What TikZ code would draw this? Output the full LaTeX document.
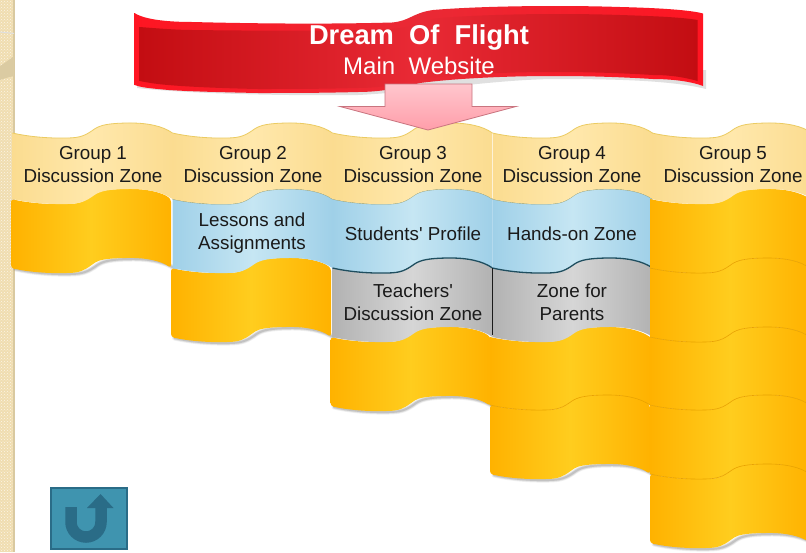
\documentclass[tikz,border=0pt]{standalone}
\usepackage{fontspec}
\setmainfont{Liberation Sans}[Ligatures=TeXOff]
\usetikzlibrary{patterns}
\definecolor{hdr}{HTML}{FBDC90}
\definecolor{hdrm}{HTML}{FFE8AC}
\definecolor{hdrT}{HTML}{EBCB62}
\definecolor{yelE}{HTML}{FFB200}
\definecolor{yelM}{HTML}{FFCD1E}
\definecolor{bluE}{HTML}{9FD0E8}
\definecolor{bluM}{HTML}{C6E6F3}
\definecolor{gryE}{HTML}{B2B2B2}
\definecolor{gryM}{HTML}{D6D6D6}
\definecolor{redE}{HTML}{C30D12}
\definecolor{redM}{HTML}{E92A35}
\definecolor{redB}{HTML}{FF1522}
\definecolor{ink}{HTML}{1A1A1A}
\definecolor{strip}{HTML}{F0DDB0}
\definecolor{stripE}{HTML}{D9C9A0}
\definecolor{btn}{HTML}{3F94AF}
\definecolor{btnD}{HTML}{2A6C87}
\definecolor{hdrE}{HTML}{8FA07F}
\definecolor{yelL}{HTML}{E8A200}
\definecolor{bluL}{HTML}{1F4E5F}
\definecolor{pinkT}{HTML}{FFC6CD}
\definecolor{pinkB}{HTML}{FF9EAA}
\definecolor{pinkD}{HTML}{C9747F}
\tikzset{
  x=1pt,y=-1pt,
  hdrfill/.style={left color=hdr,right color=hdr,middle color=hdrm},
  yelfill/.style={left color=yelE,right color=yelE,middle color=yelM},
  blufill/.style={left color=bluE,right color=bluE,middle color=bluM},
  gryfill/.style={left color=gryE,right color=gryE,middle color=gryM},
  label/.style={font=\fontsize{18.8}{23}\selectfont,text=ink,align=center,inner sep=0pt},
  hdrline/.style={draw=hdrE,line width=0.8pt},
}
\newcommand{\wavefw}[2]{.. controls (#1+15,#2+3.5) and (#1+35,#2+5.5) .. (#1+55,#2+5) .. controls (#1+68,#2+4.8) and (#1+73,#2+2.5) .. (#1+82,#2-4) .. controls (#1+88,#2-8) and (#1+96,#2-9.7) .. (#1+115,#2-10) .. controls (#1+135,#2-10.3) and (#1+150,#2-7) .. (#1+160,#2)}
\newcommand{\wavebw}[2]{.. controls (#1+150,#2-7) and (#1+135,#2-10.3) .. (#1+115,#2-10) .. controls (#1+96,#2-9.7) and (#1+88,#2-8) .. (#1+82,#2-4) .. controls (#1+73,#2+2.5) and (#1+68,#2+4.8) .. (#1+55,#2+5) .. controls (#1+35,#2+5.5) and (#1+15,#2+3.5) .. (#1,#2)}
\newcommand{\band}[4]{\path[#4] (#1,#2) \wavefw{#1}{#2} -- (#1+160,#3) \wavebw{#1}{#3} -- cycle;}
\newcommand{\softshadow}[2]{%
  \foreach \d/\o in {5/0.06,3.5/0.08,2/0.12}{%
    \draw[black,opacity=\o,line width=\d pt,line cap=round] (#1+3,#2+1) \wavefw{#1+3}{#2+1};}}
\newcommand{\edgeline}[3]{\draw[#3] (#1,#2) \wavefw{#1}{#2};}
\begin{document}
\begin{tikzpicture}
\useasboundingbox (0,0) rectangle (806,552);
\clip (0,0) rectangle (806,552);
\fill[white] (0,0) rectangle (806,552);
% left strip
\fill[strip] (0,0) rectangle (12.5,552);
\fill[pattern=crosshatch dots,pattern color=white!70!strip] (0,0) rectangle (12.5,552);
\fill[stripE] (12.5,0) rectangle (14.5,552);
\fill[stripE!90!strip] (0,66) .. controls (5,63) and (10,59) .. (14,56) -- (14,76) .. controls (10,77) and (5,78) .. (0,80) -- cycle;
\draw[white!75!gray,line width=1pt] (0,32) -- (14,33.5);

% column 1
\softshadow{12.5}{268}
\band{11}{199}{268}{yelfill,rounded corners=3pt}
\band{12.5}{133}{199}{hdrfill}
\edgeline{12.5}{133}{draw=hdrT,line width=0.8pt}
% column 2
\softshadow{171.5}{337}
\band{171}{268}{337}{yelfill,rounded corners=3pt}
\band{172.5}{199}{268}{blufill}
\edgeline{172.5}{199}{hdrline}
\band{172.5}{133}{199}{hdrfill}
\edgeline{172.5}{133}{draw=hdrT,line width=0.8pt}
% column 3
\softshadow{331}{406}
\band{330.5}{337}{406}{yelfill,rounded corners=3pt}
\band{332.5}{268}{337}{gryfill}
\band{332.5}{199}{268}{blufill}
\edgeline{332.5}{268}{draw=bluL,line width=1.3pt}
\edgeline{332.5}{199}{hdrline}
\band{332.5}{133}{199}{hdrfill}
\edgeline{332.5}{133}{draw=hdrT,line width=0.8pt}
% column 4
\softshadow{491}{474}
\band{490}{405}{474}{yelfill,rounded corners=3pt}
\band{490}{337}{405}{yelfill}
\edgeline{490}{405}{draw=yelL,line width=0.6pt}
\band{492.5}{268}{337}{gryfill}
\band{492.5}{199}{268}{blufill}
\edgeline{492.5}{268}{draw=bluL,line width=1.3pt}
\edgeline{492.5}{199}{hdrline}
\band{492.5}{133}{199}{hdrfill}
\edgeline{492.5}{133}{draw=hdrT,line width=0.8pt}
\draw[ink,line width=0.6pt] (492.7,268) -- (492.7,335);
% column 5
\softshadow{651}{543}
\band{650}{474}{543}{yelfill,rounded corners=3pt}
\band{650}{405}{474}{yelfill}
\band{650}{337}{405}{yelfill}
\band{650}{268}{337}{yelfill}
\band{650}{199}{268}{yelfill}
\edgeline{650}{268}{draw=yelL,line width=0.6pt}
\edgeline{650}{337}{draw=yelL,line width=0.6pt}
\edgeline{650}{405}{draw=yelL,line width=0.6pt}
\edgeline{650}{474}{draw=yelL,line width=0.6pt}
\band{652}{133}{199}{hdrfill}
\edgeline{652}{133}{draw=hdrT,line width=0.8pt}

% banner
\fill[black,opacity=0.12] (137,88) .. controls (180,93) and (270,96) .. (358,95) .. controls (420,92) and (490,80) .. (553,79) .. controls (610,79) and (670,80) .. (706,89) -- (706,70) -- (137,70) -- cycle;
\path[left color=redB,right color=redB,middle color=redM]
  (134.5,13) .. controls (145,20) and (170,22) .. (192,22)
  .. controls (270,24) and (340,24) .. (392,22.5)
  .. controls (410,21) and (412,13) .. (433,10)
  .. controls (480,6) and (560,5) .. (620,7)
  .. controls (660,8) and (690,10) .. (703,13.5)
  -- (703,86)
  .. controls (690,81) and (670,79) .. (653,79)
  .. controls (620,77) and (590,76) .. (553,76)
  .. controls (500,76) and (450,79) .. (420,83)
  .. controls (400,88) and (380,92) .. (358,92)
  .. controls (320,93) and (290,93) .. (258,93)
  .. controls (210,92) and (175,91) .. (158,89)
  .. controls (147,88) and (140,87) .. (134.5,85) -- cycle;
\path[left color=redE,right color=redE,middle color=redM]
  (139.5,27) .. controls (165,29) and (180,30) .. (192,30)
  .. controls (270,31) and (340,31) .. (392,29)
  .. controls (415,27) and (420,20) .. (440,18)
  .. controls (490,14) and (560,13) .. (620,15)
  .. controls (650,16) and (680,17) .. (697.5,20)
  -- (697.5,81)
  .. controls (680,76) and (665,75) .. (653,75)
  .. controls (620,73) and (590,72) .. (553,72)
  .. controls (500,72) and (450,75) .. (420,79)
  .. controls (400,84) and (380,88) .. (358,88)
  .. controls (320,89) and (290,89) .. (258,89)
  .. controls (210,88) and (175,86) .. (158,84)
  .. controls (150,83) and (145,82) .. (139.5,81) -- cycle;
\node[font=\bfseries\fontsize{27.3}{32}\selectfont,text=white,inner sep=0pt] (title) at (419,37) {Dream\ \ Of\ \ Flight};
\node[font=\fontsize{24}{27}\selectfont,text=white,inner sep=0pt] (subtitle) at (419,66) {Main\ \ Website};

% block arrow
\path[top color=pinkT,bottom color=pinkB,draw=pinkD,line width=0.8pt]
  (385,84) -- (472,84) -- (472,106.5) -- (516,106.5) -- (428,130) -- (340,106.5) -- (385,106.5) -- cycle;

% labels
\foreach \nm/\cx/\g in {g1/93/1,g2/253/2,g3/413/3,g4/572/4,g5/733/5}
  \node[label] (\nm) at (\cx,164.5) {Group \g\\Discussion Zone};
\node[label] (lessons) at (252,233.5) {Lessons and\\Assignments};
\node[label] (students) at (413,233.5) {Students' Profile};
\node[label] (hands) at (572,233.5) {Hands-on Zone};
\node[label] (teachers) at (413,302) {Teachers'\\Discussion Zone};
\node[label] (parents) at (572,302) {Zone for\\Parents};

% return button
\node[draw=btnD,fill=btn,line width=2.5pt,minimum width=76pt,minimum height=61pt,inner sep=0pt] (button) at (89,518.5) {};
\draw[btnD,line width=11.5pt] (71,507) -- (71,522) arc[start angle=180,end angle=0,radius=15] -- (101,505);
\fill[btnD] (100.5,494) -- (113.5,508) -- (87,508) -- cycle;
\end{tikzpicture}
\end{document}
